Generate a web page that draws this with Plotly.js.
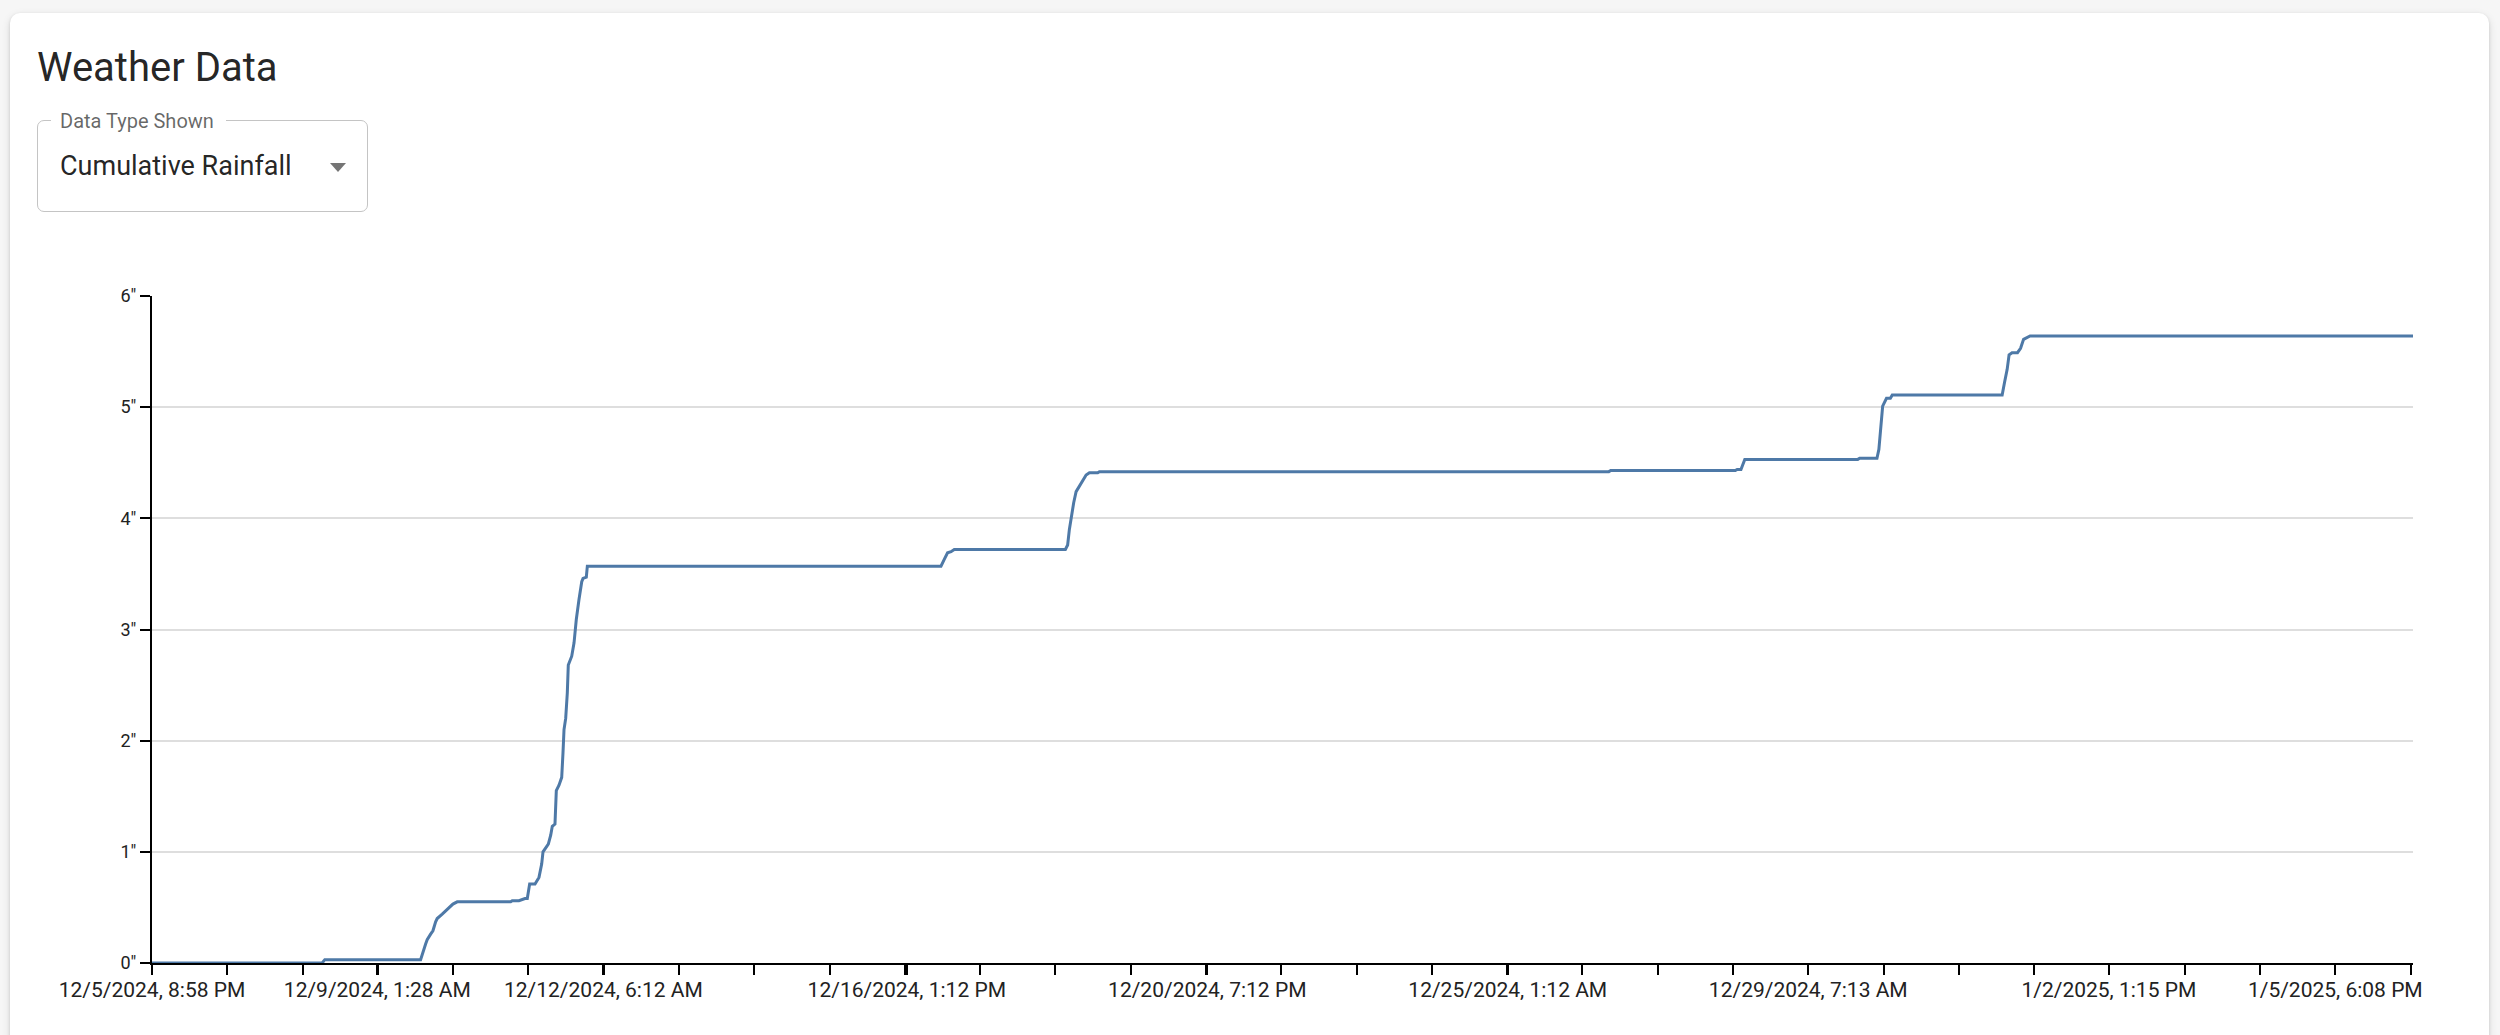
<!DOCTYPE html>
<html>
<head>
<meta charset="utf-8">
<script src="https://cdn.plot.ly/plotly-3.0.1.min.js"></script>
<style>
  html, body { margin: 0; padding: 0; width: 2500px; height: 1035px; overflow: hidden; background: #f6f6f6; font-family: Roboto, sans-serif; }
  #card { position: absolute; left: 10px; top: 13px; width: 2479px; height: 1100px; background: #fff; border-radius: 10px;
          box-shadow: 0 3px 8px rgba(0,0,0,0.13), 0 1px 3px rgba(0,0,0,0.12); }
  #title { position: absolute; left: 37px; top: 48px; font-size: 40px; line-height: 1; color: rgba(0,0,0,0.87); font-weight: 400; white-space: nowrap; }
  #select { position: absolute; left: 37px; top: 120px; width: 329px; height: 90px; border: 1.7px solid #c4c4c4; border-radius: 7px; }
  #notch { position: absolute; left: 51px; top: 117px; width: 175px; height: 8px; background: #fff; }
  #selLabel { position: absolute; left: 60px; top: 111px; font-size: 20px; line-height: 1; color: rgba(0,0,0,0.6); white-space: nowrap; }
  #selValue { position: absolute; left: 60px; top: 153px; font-size: 27px; line-height: 1; color: rgba(0,0,0,0.87); white-space: nowrap; }
  #arrow { position: absolute; left: 330px; top: 163px; width: 0; height: 0; border-left: 8px solid transparent; border-right: 8px solid transparent; border-top: 9px solid #757575; }
  #chart { position: absolute; left: 0; top: 0; width: 2500px; height: 1035px; }
</style>
</head>
<body>
<div id="card"></div>
<div id="title">Weather Data</div>
<div id="select"></div>
<div id="notch"></div>
<div id="selLabel">Data Type Shown</div>
<div id="selValue">Cumulative Rainfall</div>
<div id="arrow"></div>
<div id="chart"></div>
<script>
// Cumulative rainfall readings (inches)
const times = [
  '2024-12-05 20:58','2024-12-08 06:43','2024-12-08 07:38','2024-12-09 16:09','2024-12-09 17:51',
  '2024-12-09 18:23','2024-12-09 19:33','2024-12-09 20:20','2024-12-09 21:15','2024-12-09 21:47',
  '2024-12-09 23:29','2024-12-10 01:11','2024-12-10 03:07','2024-12-10 04:35','2024-12-10 22:43',
  '2024-12-10 23:16','2024-12-11 01:32','2024-12-11 03:35','2024-12-11 04:22','2024-12-11 05:10',
  '2024-12-11 06:59','2024-12-11 08:20','2024-12-11 09:15','2024-12-11 09:42','2024-12-11 10:37',
  '2024-12-11 11:30','2024-12-11 12:19','2024-12-11 12:51','2024-12-11 13:46','2024-12-11 14:13',
  '2024-12-11 15:08','2024-12-11 16:03','2024-12-11 16:29','2024-12-11 16:50','2024-12-11 17:24',
  '2024-12-11 17:57','2024-12-11 18:17','2024-12-11 19:27','2024-12-11 20:14','2024-12-11 21:00',
  '2024-12-11 21:55','2024-12-11 22:51','2024-12-11 23:17','2024-12-12 00:24','2024-12-12 00:45',
  '2024-12-17 00:48','2024-12-17 01:55','2024-12-17 03:02','2024-12-17 04:12','2024-12-17 05:19',
  '2024-12-18 19:02','2024-12-18 19:48','2024-12-18 20:23','2024-12-18 21:18','2024-12-18 21:51',
  '2024-12-18 22:40','2024-12-18 23:47','2024-12-19 00:54','2024-12-19 02:04','2024-12-19 03:11',
  '2024-12-19 06:00','2024-12-19 06:35','2024-12-26 11:32','2024-12-26 12:10','2024-12-28 06:26',
  '2024-12-28 07:05','2024-12-28 08:22','2024-12-28 09:40','2024-12-28 10:18','2024-12-30 00:01',
  '2024-12-30 00:40','2024-12-30 06:32','2024-12-30 07:11','2024-12-30 07:50','2024-12-30 08:28',
  '2024-12-30 09:46','2024-12-30 11:05','2024-12-30 11:44','2025-01-01 01:02','2025-01-01 01:49',
  '2025-01-01 02:44','2025-01-01 03:23','2025-01-01 04:24','2025-01-01 06:14','2025-01-01 07:17',
  '2025-01-01 08:18','2025-01-01 09:13','2025-01-01 10:31','2025-01-06 20:30'
];
const rainfall = [
  0, 0, 0.03, 0.03, 0.17,
  0.21, 0.26, 0.29, 0.37, 0.40,
  0.44, 0.48, 0.53, 0.55, 0.55,
  0.56, 0.56, 0.58, 0.58, 0.71,
  0.71, 0.77, 0.89, 1.00, 1.04,
  1.07, 1.15, 1.23, 1.25, 1.55,
  1.60, 1.67, 1.89, 2.10, 2.20,
  2.43, 2.68, 2.76, 2.88, 3.09,
  3.27, 3.43, 3.46, 3.47, 3.57,
  3.57, 3.63, 3.69, 3.70, 3.72,
  3.72, 3.76, 3.90, 4.08, 4.14,
  4.24, 4.29, 4.33, 4.39, 4.41,
  4.41, 4.42, 4.42, 4.43, 4.43,
  4.44, 4.44, 4.53, 4.53, 4.53,
  4.54, 4.54, 4.62, 4.83, 5.01,
  5.08, 5.08, 5.11, 5.11, 5.22,
  5.34, 5.47, 5.49, 5.49, 5.53,
  5.61, 5.62, 5.64, 5.64
];
// Labelled x ticks
const xTickTimes = [
  '2024-12-05 20:58','2024-12-09 01:28','2024-12-12 06:12','2024-12-16 13:12','2024-12-20 19:12',
  '2024-12-25 01:12','2024-12-29 07:13','2025-01-02 13:15','2025-01-05 18:08'
];
const xTickLabels = [
  '12/5/2024, 8:58 PM','12/9/2024, 1:28 AM','12/12/2024, 6:12 AM','12/16/2024, 1:12 PM','12/20/2024, 7:12 PM',
  '12/25/2024, 1:12 AM','12/29/2024, 7:13 AM','1/2/2025, 1:15 PM','1/5/2025, 6:08 PM'
];
const yTickVals = [0, 1, 2, 3, 4, 5, 6];
const yTickLabels = ['0"', '1"', '2"', '3"', '4"', '5"', '6"'];
// unlabeled tick spacing (ms)
const minorTickStep = 92006896;

const trace = {
  type: 'scatter', mode: 'lines', x: times, y: rainfall,
  line: { color: '#4e79a7', width: 3, shape: 'linear' },
  hoverinfo: 'x+y'
};

const layout = {
  width: 2500, height: 1035,
  margin: { l: 152, r: 87, t: 296, b: 72 },
  paper_bgcolor: 'rgba(0,0,0,0)', plot_bgcolor: 'rgba(0,0,0,0)',
  font: { family: 'Roboto, sans-serif', color: '#222' },
  showlegend: false,
  xaxis: {
    type: 'date', autorange: true,
    showgrid: false, zeroline: false,
    showline: true, linecolor: '#000', linewidth: 2,
    ticks: 'outside', ticklen: 10, tickwidth: 1.7, tickcolor: '#000',
    tickmode: 'array', tickvals: xTickTimes, ticktext: xTickLabels,
    tickfont: { size: 21, color: '#222' },
    ticklabelstandoff: -3,
    minor: { ticks: 'outside', ticklen: 10, tickwidth: 1.7, tickcolor: '#000', tickmode: 'linear', tick0: xTickTimes[0], dtick: minorTickStep, showgrid: false }
  },
  yaxis: {
    range: [0, 6], autorange: false,
    showgrid: true, gridcolor: '#dedede', gridwidth: 1.5,
    zeroline: false,
    showline: true, linecolor: '#000', linewidth: 2,
    ticks: 'outside', ticklen: 10, tickwidth: 1.7, tickcolor: '#000',
    tickmode: 'array', tickvals: yTickVals, ticktext: yTickLabels,
    tickfont: { size: 18, color: '#222' }
  }
};

Plotly.newPlot('chart', [trace], layout, { displayModeBar: false, staticPlot: false });
</script>
</body>
</html>
